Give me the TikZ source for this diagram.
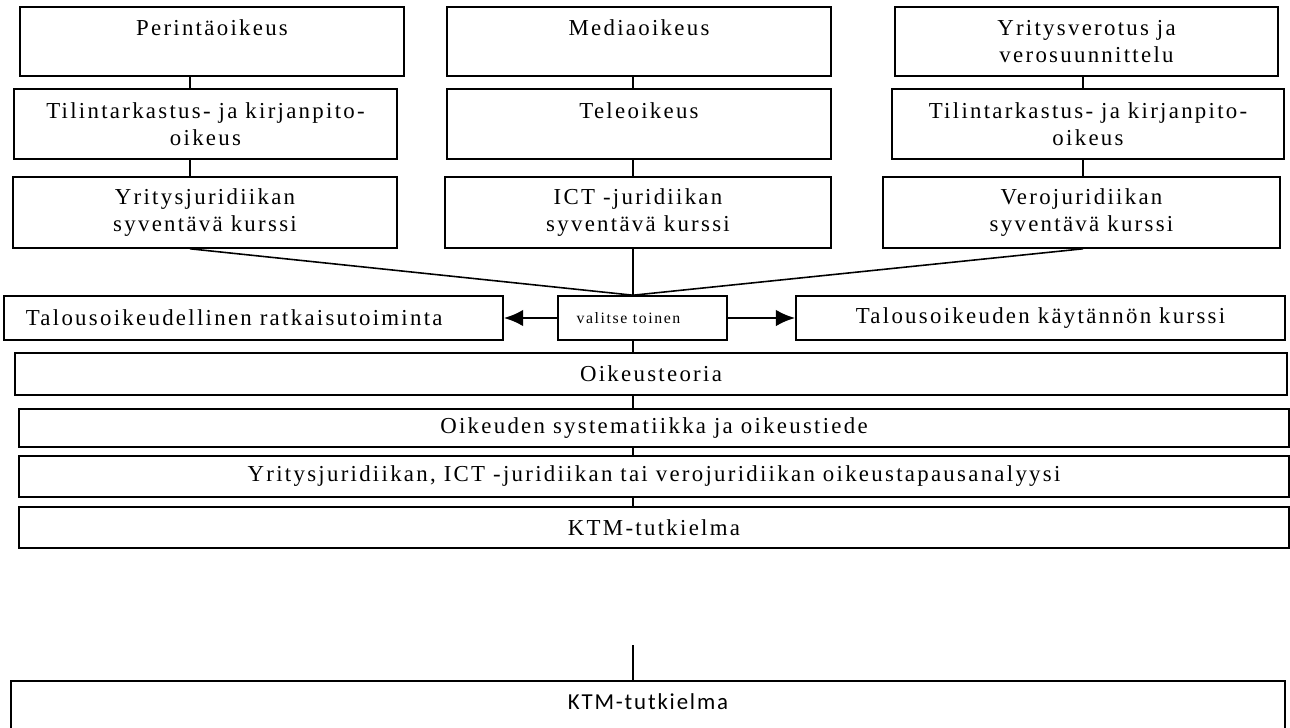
\documentclass[tikz,border=0pt]{standalone}
\usepackage{fontspec}
\usetikzlibrary{arrows.meta}
\newfontfamily\kurssifont[LetterSpace=10]{Liberation Serif}
\newfontfamily\tutkfont[LetterSpace=8]{Carlito}

\tikzset{
  kurssi/.style={draw, line width=0.9pt, align=center, inner sep=0pt,
    font=\kurssifont\fontsize{13}{15.6}\selectfont},
  pieni/.style={font=\kurssifont\fontsize{9}{11}\selectfont},
  bw/.style={minimum width=#1*0.02cm},
  bh/.style={minimum height=#1*0.02cm},
  yhteys/.style={line width=0.9pt},
  valinta/.style={-{Latex[length=11pt,width=9.5pt]}, line width=1.6pt},
}

\begin{document}
\begin{tikzpicture}[x=0.02cm, y=-0.02cm]
    \clip (0,0) rectangle (1290,727);
    % sarakkeiden yhdyslinjat
    \coordinate (col1) at (190,0);
    \coordinate (col2) at (633,0);
    \coordinate (col3) at (1083,0);

    % vasen sarake
    \node[kurssi, bw=384, bh=69] (perinto) at (212,41.5) {Perintäoikeus\\\mbox{}};
    \node[kurssi, bw=383, bh=70] (tilinV) at (205.5,124) {Tilintarkastus- ja kirjanpito-\\oikeus};
    \node[kurssi, bw=384, bh=71] (yrsyv) at (205,212.5) {Yritysjuridiikan\\syventävä kurssi};

    % keskisarake
    \node[kurssi, bw=384, bh=69] (media) at (639,41.5) {Mediaoikeus\\\mbox{}};
    \node[kurssi, bw=384, bh=70] (tele) at (639,124) {Teleoikeus\\\mbox{}};
    \node[kurssi, bw=386, bh=71] (ictsyv) at (638,212.5) {ICT -juridiikan\\syventävä kurssi};

    % oikea sarake
    \node[kurssi, bw=383, bh=69] (yrvero) at (1086.5,41.5) {Yritysverotus ja\\verosuunnittelu};
    \node[kurssi, bw=392, bh=70] (tilinO) at (1088,124) {Tilintarkastus- ja kirjanpito-\\oikeus};
    \node[kurssi, bw=397, bh=71] (verosyv) at (1081.5,212.5) {Verojuridiikan\\syventävä kurssi};

    % valinta
    \node[kurssi, pieni, bw=169, bh=44] (valitse) at (642.5,318) {valitse toinen\hspace*{16pt}};
    \node[kurssi, bw=499, bh=44] (ratk) at (253.5,318) {Talousoikeudellinen ratkaisutoiminta\hspace*{22pt}};
    \node[kurssi, bw=489, bh=44] (kaytanto) at (1040.5,318) {Talousoikeuden käytännön kurssi};

    % yhteiset opinnot
    \node[kurssi, bw=1272, bh=42] (teoria) at (651,374) {Oikeusteoria};
    \node[kurssi, bw=1270, bh=38] (system) at (654,428) {Oikeuden systematiikka ja oikeustiede};
    \node[kurssi, bw=1270, bh=41] (analyysi) at (654,476.5) {Yritysjuridiikan, ICT -juridiikan tai verojuridiikan oikeustapausanalyysi};
    \node[kurssi, bw=1270, bh=41] (ktm) at (654,527.5) {KTM-tutkielma};

    % alempi tutkielmalaatikko
    \coordinate (jatko) at (633,645);
    \node[kurssi, font=\tutkfont\fontsize{13}{15.6}\selectfont, bw=1274, bh=120,
      text height=10pt, text depth=46pt, anchor=north] (ktm2) at (648,680) {KTM-tutkielma};

    % yhteydet
    \draw[yhteys] (perinto.south -| col1) -- (tilinV.north -| col1);
    \draw[yhteys] (tilinV.south -| col1) -- (yrsyv.north -| col1);
    \draw[yhteys] (media.south -| col2) -- (tele.north -| col2);
    \draw[yhteys] (tele.south -| col2) -- (ictsyv.north -| col2);
    \draw[yhteys] (yrvero.south -| col3) -- (tilinO.north -| col3);
    \draw[yhteys] (tilinO.south -| col3) -- (verosyv.north -| col3);

    \draw[yhteys] (yrsyv.south -| col1) -- (valitse.north -| col2);
    \draw[yhteys] (ictsyv.south -| col2) -- (valitse.north -| col2);
    \draw[yhteys] (verosyv.south -| col3) -- (valitse.north -| col2);

    \draw[valinta] (valitse.west) -- (ratk.east);
    \draw[valinta] (valitse.east) -- (kaytanto.west);

    \draw[yhteys] (valitse.south -| col2) -- (teoria.north -| col2);
    \draw[yhteys] (teoria.south -| col2) -- (system.north -| col2);
    \draw[yhteys] (system.south -| col2) -- (analyysi.north -| col2);
    \draw[yhteys] (analyysi.south -| col2) -- (ktm.north -| col2);
    \draw[yhteys] (jatko) -- (ktm2.north -| jatko);
\end{tikzpicture}
\end{document}
